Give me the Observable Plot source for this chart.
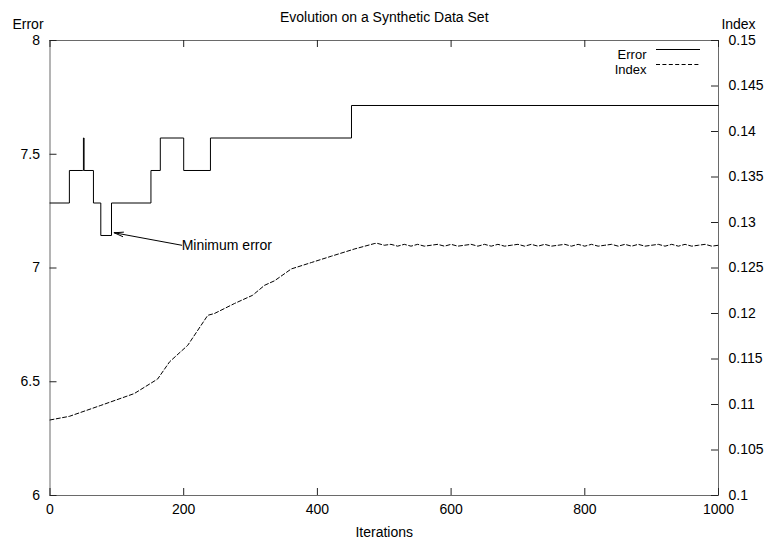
<!DOCTYPE html>
<html><head><meta charset="utf-8">
<script src="https://cdn.jsdelivr.net/npm/d3@7"></script>
<script src="https://cdn.jsdelivr.net/npm/@observablehq/plot@0.6"></script>
<style>html,body{margin:0;padding:0;background:#fff} svg{display:block}</style>
</head><body><div id="chart"></div>
<script>
// ---- data ----
const errorIter = [0, 29, 49, 50, 51, 65, 76, 92, 151, 165, 200, 240, 451, 1000];
const errorVal  = [7.2857, 7.4286, 7.4286, 7.5714, 7.4286, 7.2857, 7.1429, 7.2857, 7.4286, 7.5714, 7.4286, 7.5714, 7.7143, 7.7143];

const indexIter = [0, 29, 76, 126, 161, 179, 206, 236, 246, 276, 303, 321, 336, 361, 391, 421, 456, 486,
  490, 500, 510, 520, 530, 540, 550, 560, 570, 580, 590, 600, 610, 620, 630, 640, 650, 660, 670, 680,
  690, 700, 710, 720, 730, 740, 750, 760, 770, 780, 790, 800, 810, 820, 830, 840, 850, 860, 870, 880,
  890, 900, 910, 920, 930, 940, 950, 960, 970, 980, 990, 1000];
const indexVal = [0.1083, 0.1087, 0.1099, 0.1112, 0.1128, 0.1147, 0.1165, 0.1198, 0.1200, 0.1211, 0.1220, 0.1231, 0.1236, 0.1249, 0.1256, 0.1263, 0.1271, 0.1277,
  0.1277, 0.1275, 0.1276, 0.1274, 0.1276, 0.1274, 0.1276, 0.1274, 0.1275, 0.1276, 0.1274, 0.1276, 0.1274, 0.1275, 0.1276, 0.1274, 0.1276, 0.1274, 0.1276, 0.1274,
  0.1275, 0.1276, 0.1274, 0.1276, 0.1274, 0.1276, 0.1274, 0.1275, 0.1276, 0.1274, 0.1276, 0.1274, 0.1276, 0.1274, 0.1275, 0.1276, 0.1274, 0.1276, 0.1274, 0.1276,
  0.1274, 0.1275, 0.1276, 0.1274, 0.1276, 0.1274, 0.1276, 0.1274, 0.1275, 0.1276, 0.1274, 0.1275];

const xTicks = [0, 200, 400, 600, 800, 1000];
const xTickLabels = ["0", "200", "400", "600", "800", "1000"];
const errTicks = [6, 6.5, 7, 7.5, 8];
const errTickLabels = ["6", "6.5", "7", "7.5", "8"];
const idxTicks = [0.1, 0.105, 0.11, 0.115, 0.12, 0.125, 0.13, 0.135, 0.14, 0.145, 0.15];
const idxTickLabels = ["0.1", "0.105", "0.11", "0.115", "0.12", "0.125", "0.13", "0.135", "0.14", "0.145", "0.15"];

const title = "Evolution on a Synthetic Data Set";
const xLabel = "Iterations";
const yLabel = "Error";
const y2Label = "Index";
const seriesNames = ["Error", "Index"];
const annotation = [{text: "Minimum error", x1: 197, y1: 7.1, x2: 96, y2: 7.155}];

// ---- build ----
const idxDomain = [0.1, 0.15];
const errDomain = [6, 8];
const toErr = v => errDomain[0] + (v - idxDomain[0]) / (idxDomain[1] - idxDomain[0]) * (errDomain[1] - errDomain[0]);

const errorData = errorIter.map((x, i) => ({x, y: errorVal[i]}));
const indexData = indexIter.map((x, i) => ({x, y: toErr(indexVal[i])}));

const W = 767, H = 544;
const mL = 49.5, mR = 49, mT = 40, mB = 49;
const fw = W - mL - mR, fh = H - mT - mB;
const tick = 7;
const font = "'Liberation Sans', Arial, Helvetica, sans-serif";
const fs = 14;
const lfs = 13;
const legY1 = 9, legY2 = 24;

const chart = Plot.plot({
  width: W, height: H,
  marginLeft: mL, marginRight: mR, marginTop: mT, marginBottom: mB,
  style: {fontFamily: font, fontSize: fs + "px", background: "#fff", color: "#000"},
  x: {domain: [0, 1000], axis: null},
  y: {domain: errDomain, axis: null},
  marks: [
    Plot.frame({stroke: "#6a6a6a", strokeWidth: 1}),
    // ticks
    Plot.tickX(xTicks, {x: d => d, insetTop: fh - tick, stroke: "#222"}),
    Plot.tickX(xTicks, {x: d => d, insetBottom: fh - tick, stroke: "#222"}),
    Plot.tickY(errTicks, {y: d => d, insetRight: fw - tick, stroke: "#222"}),
    Plot.tickY(idxTicks, {y: d => toErr(d), insetLeft: fw - tick, stroke: "#222"}),
    // tick labels
    Plot.text(xTicks, {x: d => d, frameAnchor: "bottom", dy: 18, text: (d, i) => xTickLabels[i], fontSize: fs}),
    Plot.text(errTicks, {y: d => d, frameAnchor: "left", dx: -10, textAnchor: "end", text: (d, i) => errTickLabels[i], fontSize: fs}),
    Plot.text(idxTicks, {y: d => toErr(d), frameAnchor: "right", dx: 10, textAnchor: "start", text: (d, i) => idxTickLabels[i], fontSize: fs}),
    // axis labels & title
    Plot.text([title], {frameAnchor: "top", dy: -28, text: d => d, fontSize: fs}),
    Plot.text([yLabel], {frameAnchor: "top-left", dx: -22, dy: -21, text: d => d, textAnchor: "middle", fontSize: fs}),
    Plot.text([y2Label], {frameAnchor: "top-right", dx: 20, dy: -21, text: d => d, textAnchor: "middle", fontSize: fs}),
    Plot.text([xLabel], {frameAnchor: "bottom", dy: 41, text: d => d, fontSize: fs}),
    // series
    Plot.line(indexData, {x: "x", y: "y", stroke: "#000", strokeWidth: 1, strokeDasharray: "4,2.4"}),
    Plot.line(errorData, {x: "x", y: "y", curve: "step-after", stroke: "#000", strokeWidth: 1}),
    // annotation
    Plot.arrow(annotation, {x1: "x1", y1: "y1", x2: "x2", y2: "y2", stroke: "#000", strokeWidth: 1, headLength: 14, headAngle: 28}),
    Plot.text(annotation, {x: "x1", y: "y1", text: "text", textAnchor: "start", fontSize: fs}),
    // legend text
    Plot.text([seriesNames[0]], {frameAnchor: "top-right", dx: -72, dy: legY1, textAnchor: "end", text: d => d, fontSize: lfs}),
    Plot.text([seriesNames[1]], {frameAnchor: "top-right", dx: -72, dy: legY2, textAnchor: "end", text: d => d, fontSize: lfs})
  ]
});

// legend line samples
const svg = d3.select(chart);
const lx1 = W - mR - 62, lx2 = W - mR - 18;
svg.append("line").attr("x1", lx1).attr("x2", lx2).attr("y1", mT + legY1 + 0.5).attr("y2", mT + legY1 + 0.5)
  .attr("stroke", "#000").attr("stroke-width", 1);
svg.append("line").attr("x1", lx1).attr("x2", lx2).attr("y1", mT + legY2 + 0.5).attr("y2", mT + legY2 + 0.5)
  .attr("stroke", "#000").attr("stroke-width", 1).attr("stroke-dasharray", "4,2.4");

document.getElementById("chart").appendChild(chart);
</script>
</body></html>
